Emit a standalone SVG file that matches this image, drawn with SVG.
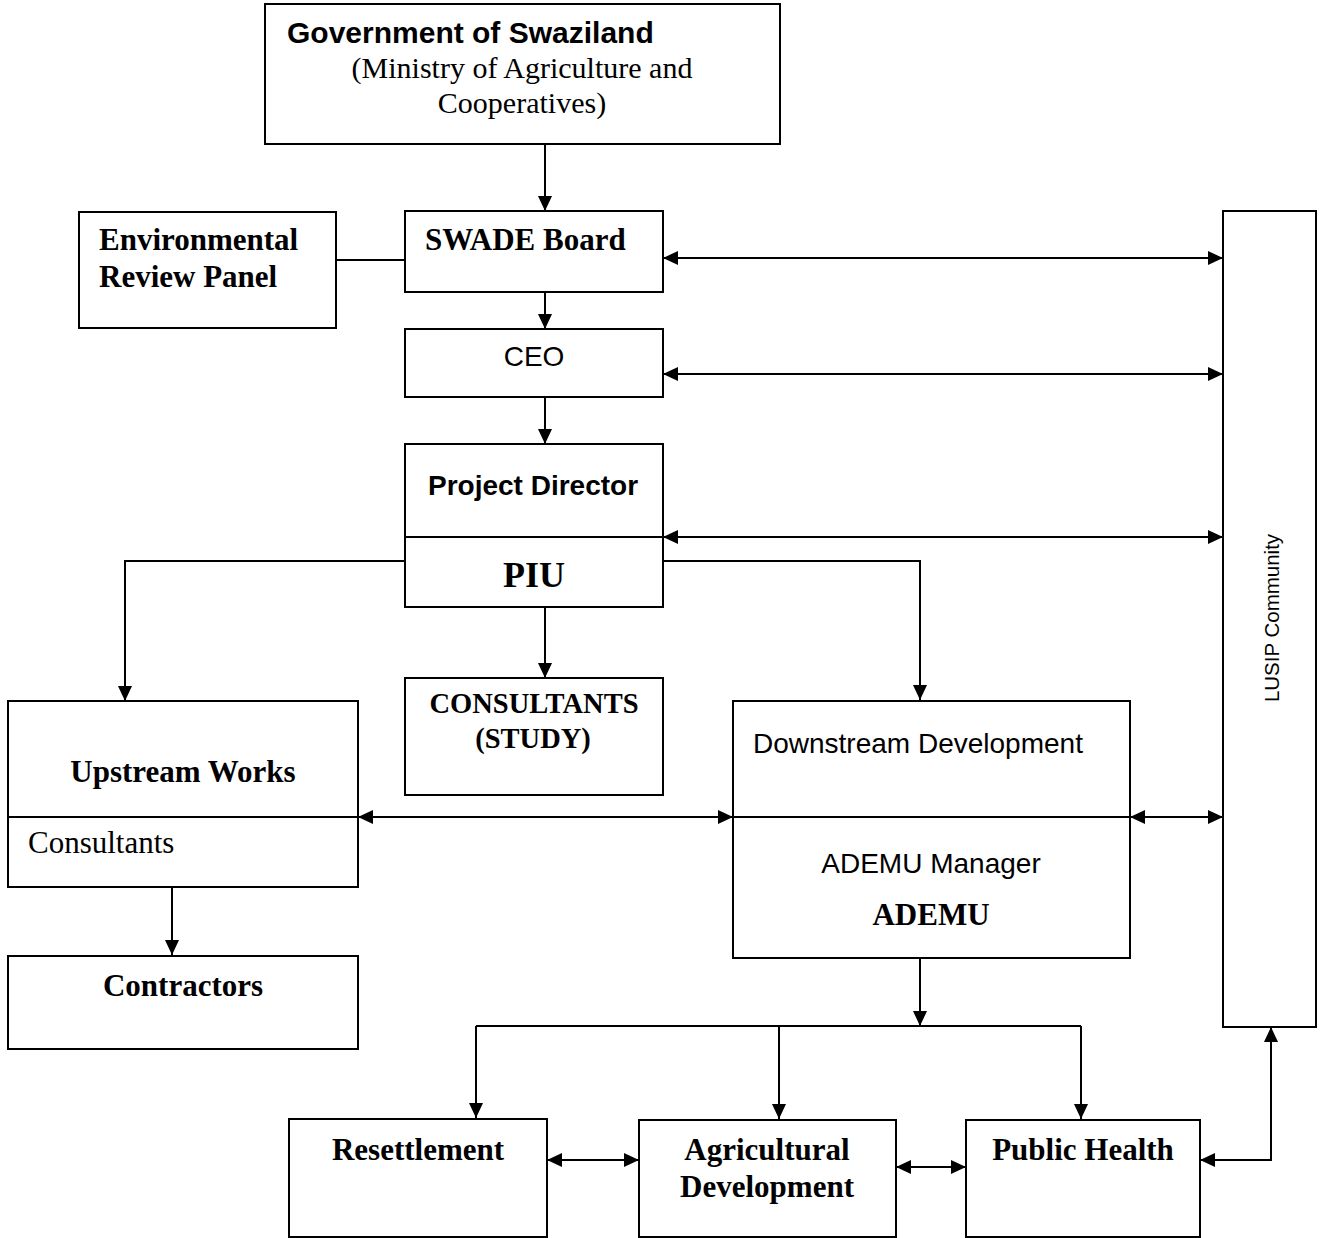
<svg xmlns="http://www.w3.org/2000/svg" width="1321" height="1238" viewBox="0 0 1321 1238">
<defs>
<marker id="arr" markerUnits="userSpaceOnUse" markerWidth="16" markerHeight="16" viewBox="0 0 16 16" refX="15" refY="8" orient="auto-start-reverse">
<path d="M0,1 L15,8 L0,15 z" fill="#000"/>
</marker>
<style>
.box{fill:#fff;stroke:#000;stroke-width:2}
.ln{fill:none;stroke:#000;stroke-width:2}
.sb{font-family:"Liberation Serif","Times New Roman",serif;font-weight:bold;font-size:31px}
.sr{font-family:"Liberation Serif","Times New Roman",serif;font-size:30px}
.ab{font-family:"Liberation Sans",Arial,sans-serif;font-weight:bold;font-size:28px}
.ar{font-family:"Liberation Sans",Arial,sans-serif;font-size:28px}
.c{text-anchor:middle}
</style>
</defs>
<rect width="1321" height="1238" fill="#fff"/>
<g id="connectors">
<path class="ln" d="M545,144 V211" marker-end="url(#arr)"/>
<path class="ln" d="M336,260 H405"/>
<path class="ln" d="M545,281 V329" marker-end="url(#arr)"/>
<path class="ln" d="M545,397 V444" marker-end="url(#arr)"/>
<path class="ln" d="M663,258 H1223" marker-start="url(#arr)" marker-end="url(#arr)"/>
<path class="ln" d="M663,374 H1223" marker-start="url(#arr)" marker-end="url(#arr)"/>
<path class="ln" d="M663,537 H1223" marker-start="url(#arr)" marker-end="url(#arr)"/>
<path class="ln" d="M405,561 H125 V701" marker-end="url(#arr)"/>
<path class="ln" d="M663,561 H920 V700" marker-end="url(#arr)"/>
<path class="ln" d="M545,607 V678" marker-end="url(#arr)"/>
<path class="ln" d="M358,817 H733" marker-start="url(#arr)" marker-end="url(#arr)"/>
<path class="ln" d="M1130,817 H1223" marker-start="url(#arr)" marker-end="url(#arr)"/>
<path class="ln" d="M172,887 V955" marker-end="url(#arr)"/>
<path class="ln" d="M920,958 V1026" marker-end="url(#arr)"/>
<path class="ln" d="M476,1026 H1081"/>
<path class="ln" d="M476,1026 V1118" marker-end="url(#arr)"/>
<path class="ln" d="M779,1026 V1119" marker-end="url(#arr)"/>
<path class="ln" d="M1081,1026 V1119" marker-end="url(#arr)"/>
<path class="ln" d="M547,1160 H639" marker-start="url(#arr)" marker-end="url(#arr)"/>
<path class="ln" d="M896,1167 H966" marker-start="url(#arr)" marker-end="url(#arr)"/>
<path class="ln" d="M1200,1160 H1271 V1027" marker-start="url(#arr)" marker-end="url(#arr)"/>
</g>
<g id="gov">
<rect class="box" x="265" y="4" width="515" height="140"/>
<text class="ab" x="287" y="43" style="font-size:30px">Government of Swaziland</text>
<text class="sr c" x="522" y="78">(Ministry of Agriculture and</text>
<text class="sr c" x="522" y="113">Cooperatives)</text>
</g>
<g id="erp">
<rect class="box" x="79" y="212" width="257" height="116"/>
<text class="sb" x="99" y="250">Environmental</text>
<text class="sb" x="99" y="287">Review Panel</text>
</g>
<g id="swade">
<rect class="box" x="405" y="211" width="258" height="81"/>
<text class="sb" x="425" y="250">SWADE Board</text>
</g>
<g id="ceo">
<rect class="box" x="405" y="329" width="258" height="68"/>
<text class="ar c" x="534" y="366">CEO</text>
</g>
<g id="pd">
<rect class="box" x="405" y="444" width="258" height="163"/>
<line class="ln" x1="405" y1="537" x2="663" y2="537"/>
<text class="ab c" x="533" y="495">Project Director</text>
<text class="sb c" x="534" y="587" style="font-size:36px">PIU</text>
</g>
<g id="consultants">
<rect class="box" x="405" y="678" width="258" height="117"/>
<text class="sb c" x="534" y="713" style="font-size:28.5px">CONSULTANTS</text>
<text class="sb c" x="533" y="748" style="font-size:28.5px">(STUDY)</text>
</g>
<g id="upstream">
<rect class="box" x="8" y="701" width="350" height="186"/>
<line class="ln" x1="8" y1="817" x2="358" y2="817"/>
<text class="sb c" x="183" y="782">Upstream Works</text>
<text class="sr" x="28" y="853" style="font-size:31px">Consultants</text>
</g>
<g id="contractors">
<rect class="box" x="8" y="956" width="350" height="93"/>
<text class="sb c" x="183" y="996">Contractors</text>
</g>
<g id="downstream">
<rect class="box" x="733" y="701" width="397" height="257"/>
<line class="ln" x1="733" y1="817" x2="1130" y2="817"/>
<text class="ar" x="753" y="753">Downstream Development</text>
<text class="ar c" x="931" y="873">ADEMU Manager</text>
<text class="sb c" x="931" y="925">ADEMU</text>
</g>
<g id="lusip">
<rect class="box" x="1223" y="211" width="93" height="816"/>
<text class="ar c" style="font-size:20.5px" transform="translate(1279,618) rotate(-90)">LUSIP Community</text>
</g>
<g id="resettlement">
<rect class="box" x="289" y="1119" width="258" height="118"/>
<text class="sb c" x="418" y="1160">Resettlement</text>
</g>
<g id="agdev">
<rect class="box" x="639" y="1120" width="257" height="117"/>
<text class="sb c" x="767" y="1160">Agricultural</text>
<text class="sb c" x="767" y="1197">Development</text>
</g>
<g id="health">
<rect class="box" x="966" y="1120" width="234" height="117"/>
<text class="sb c" x="1083" y="1160">Public Health</text>
</g>
</svg>
